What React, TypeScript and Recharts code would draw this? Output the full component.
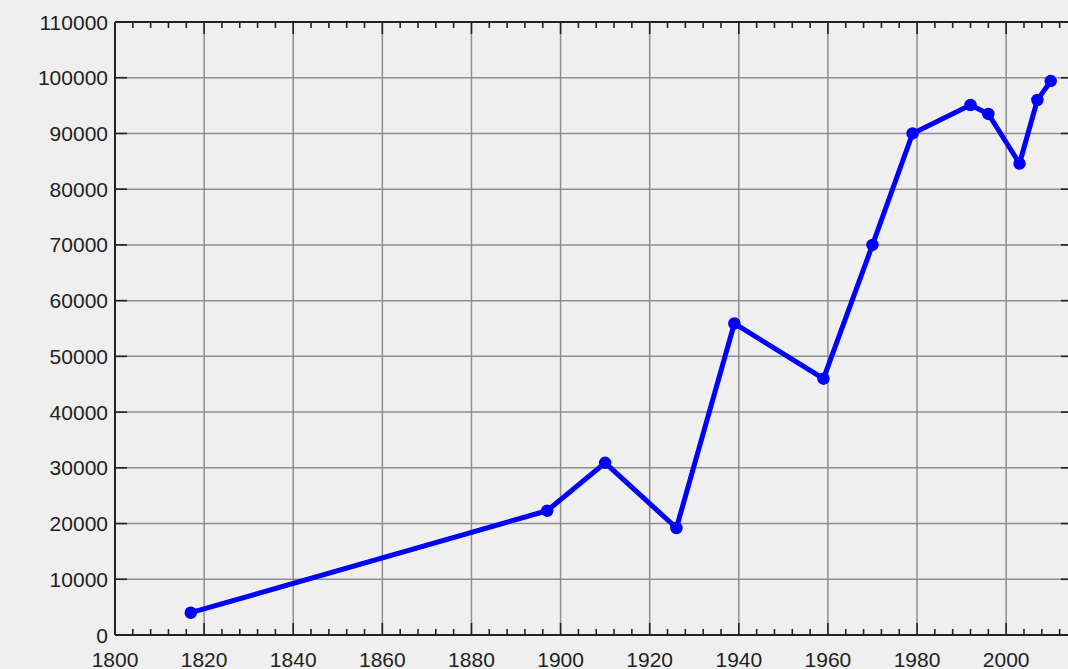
import React from "react";
import { LineChart, Line, XAxis, YAxis, CartesianGrid } from "recharts";

const years = [1817, 1897, 1910, 1926, 1939, 1959, 1970, 1979, 1992, 1996, 2003, 2007, 2010];
const population = [4000, 22300, 30900, 19200, 55900, 46000, 70000, 90000, 95100, 93500, 84600, 96000, 99400];
const majorYearTicks = [1800, 1820, 1840, 1860, 1880, 1900, 1920, 1940, 1960, 1980, 2000];
const minorYearTicks = [
  1800, 1804, 1808, 1812, 1816, 1820, 1824, 1828, 1832, 1836, 1840, 1844, 1848, 1852, 1856, 1860,
  1864, 1868, 1872, 1876, 1880, 1884, 1888, 1892, 1896, 1900, 1904, 1908, 1912, 1916, 1920, 1924,
  1928, 1932, 1936, 1940, 1944, 1948, 1952, 1956, 1960, 1964, 1968, 1972, 1976, 1980, 1984, 1988,
  1992, 1996, 2000, 2004, 2008, 2012,
];
const valueTicks = [0, 10000, 20000, 30000, 40000, 50000, 60000, 70000, 80000, 90000, 100000, 110000];
const yearDomain = [1800, 2015];
const valueDomain = [0, 110000];

const data = years.map((year, i) => ({ year, population: population[i] }));

const AXIS = "#222";
const FONT = "'Liberation Sans', Arial, sans-serif";
const FONT_SIZE = 21;
const X_MARGIN = 32;
const Y_MARGIN = 7;

const BottomTick = (props: any) => {
  const { x, y, payload } = props;
  const major = payload.value % 20 === 0;
  const axisY = y - X_MARGIN;
  return (
    <g>
      <line x1={x} x2={x} y1={axisY} y2={axisY - (major ? 12 : 6)} stroke={AXIS} strokeWidth={1.6} />
      {major && (
        <text x={x} y={y} textAnchor="middle" fontSize={FONT_SIZE} fontFamily={FONT} fill={AXIS}>
          {payload.value}
        </text>
      )}
    </g>
  );
};

const TopTick = (props: any) => {
  const { x, y, payload } = props;
  const major = payload.value % 20 === 0;
  return <line x1={x} x2={x} y1={y} y2={y + (major ? 12 : 6)} stroke={AXIS} strokeWidth={1.6} />;
};

const LeftTick = (props: any) => {
  const { x, y, payload } = props;
  const axisX = x + Y_MARGIN;
  return (
    <g>
      <line x1={axisX} x2={axisX + 12} y1={y} y2={y} stroke={AXIS} strokeWidth={1.6} />
      <text x={x} y={y} dy={7.5} textAnchor="end" fontSize={FONT_SIZE} fontFamily={FONT} fill={AXIS}>
        {payload.value}
      </text>
    </g>
  );
};

const RightTick = (props: any) => {
  const { x, y } = props;
  return <line x1={x} x2={x - 12} y1={y} y2={y} stroke={AXIS} strokeWidth={1.6} />;
};

export default function App() {
  return (
    <div
      style={{
        position: "absolute",
        left: 0,
        top: 0,
        width: 1068,
        height: 669,
        overflow: "hidden",
        background: "#efefef",
      }}
    >
      <LineChart width={1100} height={669} data={data} margin={{ top: 0, right: 0, bottom: 0, left: 0 }}>
        <XAxis
          xAxisId="main"
          orientation="bottom"
          type="number"
          dataKey="year"
          domain={yearDomain}
          allowDataOverflow
          ticks={minorYearTicks}
          interval={0}
          height={34}
          tickLine={false}
          tickSize={0}
          tickMargin={X_MARGIN}
          tick={<BottomTick />}
          axisLine={{ stroke: AXIS, strokeWidth: 2 }}
        />
        <XAxis
          xAxisId="grid"
          hide
          orientation="bottom"
          type="number"
          dataKey="year"
          domain={yearDomain}
          allowDataOverflow
          ticks={majorYearTicks}
          height={0}
        />
        <CartesianGrid xAxisId="grid" yAxisId="left" stroke="#8e8e8e" strokeWidth={1.5} />
        <XAxis
          xAxisId="top"
          orientation="top"
          type="number"
          dataKey="year"
          domain={yearDomain}
          allowDataOverflow
          ticks={minorYearTicks}
          interval={0}
          height={22}
          tickLine={false}
          tickSize={0}
          tickMargin={0}
          tick={<TopTick />}
          axisLine={{ stroke: AXIS, strokeWidth: 2 }}
        />
        <YAxis
          yAxisId="left"
          orientation="left"
          type="number"
          domain={valueDomain}
          allowDataOverflow
          ticks={valueTicks}
          interval={0}
          width={115}
          tickLine={false}
          tickSize={0}
          tickMargin={Y_MARGIN}
          tick={<LeftTick />}
          axisLine={{ stroke: AXIS, strokeWidth: 2 }}
        />
        <YAxis
          yAxisId="right"
          orientation="right"
          type="number"
          domain={valueDomain}
          allowDataOverflow
          ticks={valueTicks}
          interval={0}
          width={27}
          tickLine={false}
          tickSize={0}
          tickMargin={0}
          tick={<RightTick />}
          axisLine={{ stroke: AXIS, strokeWidth: 2 }}
        />
        <Line
          xAxisId="main"
          yAxisId="left"
          type="linear"
          dataKey="population"
          stroke="#0000ff"
          strokeWidth={5}
          dot={{ r: 5.5, fill: "#0000ff", stroke: "#0000ff", strokeWidth: 1.5 }}
          isAnimationActive={false}
        />
      </LineChart>
    </div>
  );
}
